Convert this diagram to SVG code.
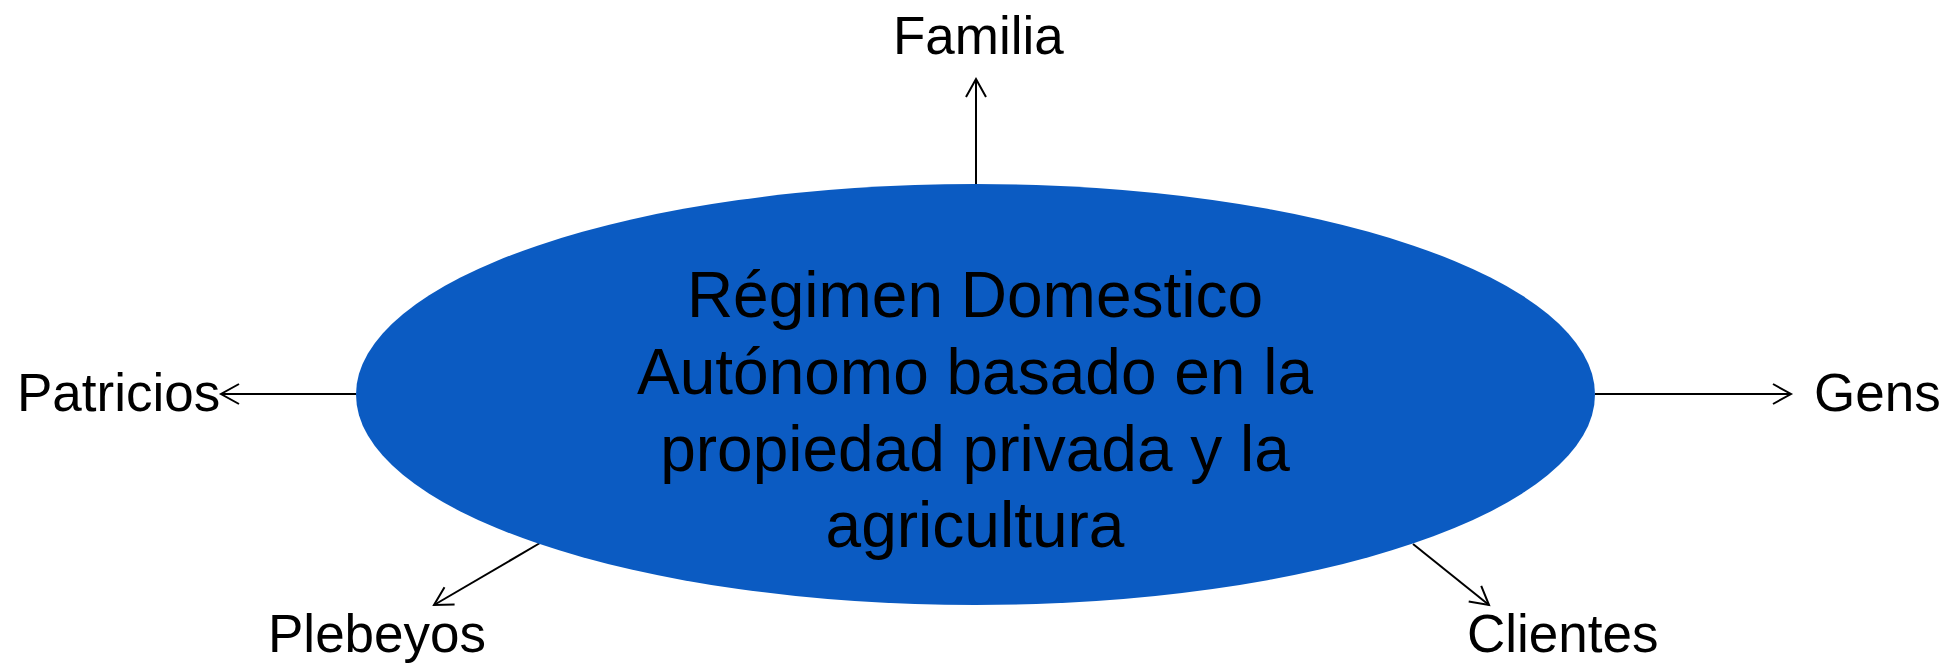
<svg xmlns="http://www.w3.org/2000/svg" width="1951" height="663" viewBox="0 0 1951 663">
  <style>
    .lbl { font-family: "Liberation Sans", Arial, sans-serif; font-size: 53px; fill: #000; }
    .ctr { font-family: "Liberation Sans", Arial, sans-serif; font-size: 64px; fill: #000; text-anchor: middle; }
    .conn { stroke: #000; stroke-width: 2; fill: none; marker-end: url(#arrow); }
  </style>
  <defs>
    <marker id="arrow" markerUnits="userSpaceOnUse" markerWidth="24" markerHeight="26" viewBox="-20 -12 24 24" refX="0" refY="0" orient="auto">
      <path d="M -18 -10 L 0 0 L -18 10" fill="none" stroke="#000" stroke-width="2"/>
    </marker>
  </defs>
  <rect width="1951" height="663" fill="#fff"/>
  <g id="connectors">
    <line class="conn" x1="976" y1="184" x2="976" y2="79"/>
    <line class="conn" x1="356" y1="394" x2="221" y2="394"/>
    <line class="conn" x1="1595" y1="394" x2="1791" y2="394"/>
    <line class="conn" x1="540" y1="543" x2="434" y2="605"/>
    <line class="conn" x1="1413" y1="544" x2="1489" y2="605"/>
  </g>
  <g id="center">
    <ellipse cx="975.5" cy="394.5" rx="619.5" ry="210.5" fill="#0B5BC2"/>
    <text class="ctr" x="975" y="317">Régimen Domestico</text>
    <text class="ctr" x="975" y="394">Autónomo basado en la</text>
    <text class="ctr" x="975" y="471">propiedad privada y la</text>
    <text class="ctr" x="975" y="547">agricultura</text>
  </g>
  <g id="familia"><text class="lbl" x="893" y="54">Familia</text></g>
  <g id="patricios"><text class="lbl" x="17" y="411">Patricios</text></g>
  <g id="gens"><text class="lbl" x="1814" y="411">Gens</text></g>
  <g id="plebeyos"><text class="lbl" x="268" y="652">Plebeyos</text></g>
  <g id="clientes"><text class="lbl" x="1467" y="652">Clientes</text></g>
</svg>
